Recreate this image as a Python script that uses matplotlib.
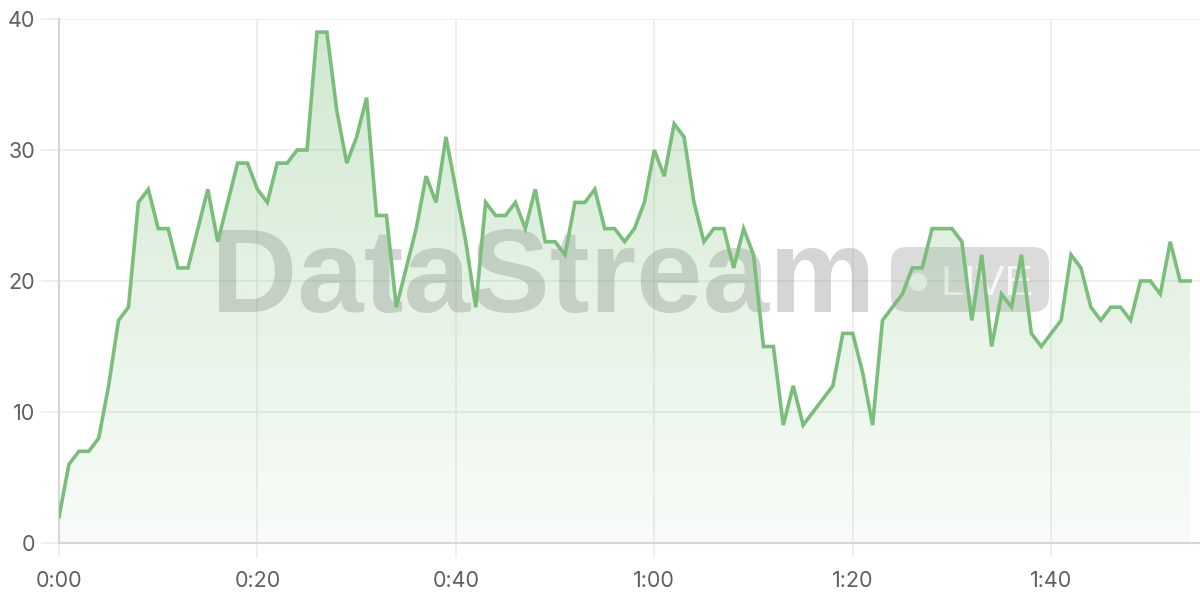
import numpy as np
import matplotlib
matplotlib.use("Agg")
import matplotlib.pyplot as plt
from matplotlib.patches import Polygon, FancyBboxPatch, Circle

# data: one value per minute, 0:00 .. 1:54
values = [2, 6, 7, 7, 8, 12, 17, 18, 26, 27,
          24, 24, 21, 21, 24, 27, 23, 26, 29, 29,
          27, 26, 29, 29, 30, 30, 39, 39, 33, 29,
          31, 34, 25, 25, 18, 21, 24, 28, 26, 31,
          27, 23, 18, 26, 25, 25, 26, 24, 27, 23,
          23, 22, 26, 26, 27, 24, 24, 23, 24, 26,
          30, 28, 32, 31, 26, 23, 24, 24, 21, 24,
          22, 15, 15, 9, 12, 9, 10, 11, 12, 16,
          16, 13, 9, 17, 18, 19, 21, 21, 24, 24,
          24, 23, 17, 22, 15, 19, 18, 22, 16, 15,
          16, 17, 22, 21, 18, 17, 18, 18, 17, 20,
          20, 19, 23, 20, 20]
minutes = list(range(len(values)))

x_ticks = [0, 20, 40, 60, 80, 100]
x_labels = ["0:00", "0:20", "0:40", "1:00", "1:20", "1:40"]
y_ticks = [0, 10, 20, 30, 40]

line_col = "#7bbd7b"
grid_col = "#ebebeb"
axis_col = "#d6d6d6"
text_col = "#606060"

plt.rcParams["font.family"] = ["Inter", "DejaVu Sans"]

fig = plt.figure(figsize=(12, 6), dpi=100)
ax = fig.add_axes([59 / 1200, 57 / 600, 1141 / 1200, 524 / 600])

# gradient fill under the line
poly = Polygon(list(zip(minutes, values)) + [(minutes[-1], 0), (0, 0)],
               closed=True, facecolor="none", edgecolor="none")
ax.add_patch(poly)
n = 256
alpha = np.linspace(0.05, 0.36, n)
grad = np.zeros((n, 1, 4))
grad[:, 0, 0] = 123 / 255
grad[:, 0, 1] = 190 / 255
grad[:, 0, 2] = 123 / 255
grad[:, 0, 3] = alpha
im = ax.imshow(grad, extent=[0, minutes[-1], 0, 40], aspect="auto",
               origin="lower", zorder=1, interpolation="bilinear")
im.set_clip_path(poly)

ax.plot(minutes, values, color=line_col, lw=2.6, solid_joinstyle="miter",
        zorder=4)

# watermark (drawn in inches: 100 px per inch, origin bottom-left)
wm = fig.dpi_scale_trans
ax.text(2.11, 6 - 3.12, "DataStream", transform=wm,
        family=["Liberation Sans", "DejaVu Sans"], weight="bold", fontsize=86,
        color="#808080", alpha=0.33, ha="left", va="baseline", zorder=0.7)
badge = FancyBboxPatch((8.91, 6 - 3.12), 1.58, 0.65,
                       boxstyle="round,pad=0,rounding_size=0.16",
                       transform=wm, facecolor="#808080",
                       edgecolor="none", alpha=0.28, zorder=0.7)
badge.set_clip_on(False)
ax.add_artist(badge)
dot = Circle((9.18, 6 - 2.82), 0.09, transform=wm,
             facecolor="white", edgecolor="none", alpha=0.75, zorder=0.7)
dot.set_clip_on(False)
ax.add_artist(dot)
ax.text(9.40, 6 - 2.95, "LIVE", transform=wm,
        family=["Liberation Sans", "DejaVu Sans"], fontsize=31,
        color="white", alpha=0.8, ha="left", va="baseline", zorder=0.7)

ax.set_xlim(0, 115)
ax.set_ylim(0, 40)
ax.set_xticks(x_ticks)
ax.set_xticklabels(x_labels)
ax.set_yticks(y_ticks)

ax.grid(True, color=grid_col, lw=1.1)
ax.set_axisbelow(True)
for s in ["top", "right"]:
    ax.spines[s].set_visible(False)
for s in ["left", "bottom"]:
    ax.spines[s].set_color(axis_col)
    ax.spines[s].set_linewidth(1.5)

ax.tick_params(axis="y", length=13, width=1.1, color=grid_col, pad=4,
               labelsize=15.5, labelcolor=text_col)
ax.tick_params(axis="x", length=11, width=1.1, color=grid_col, pad=9,
               labelsize=15.5, labelcolor=text_col)

fig.savefig("out.png", dpi=100)
